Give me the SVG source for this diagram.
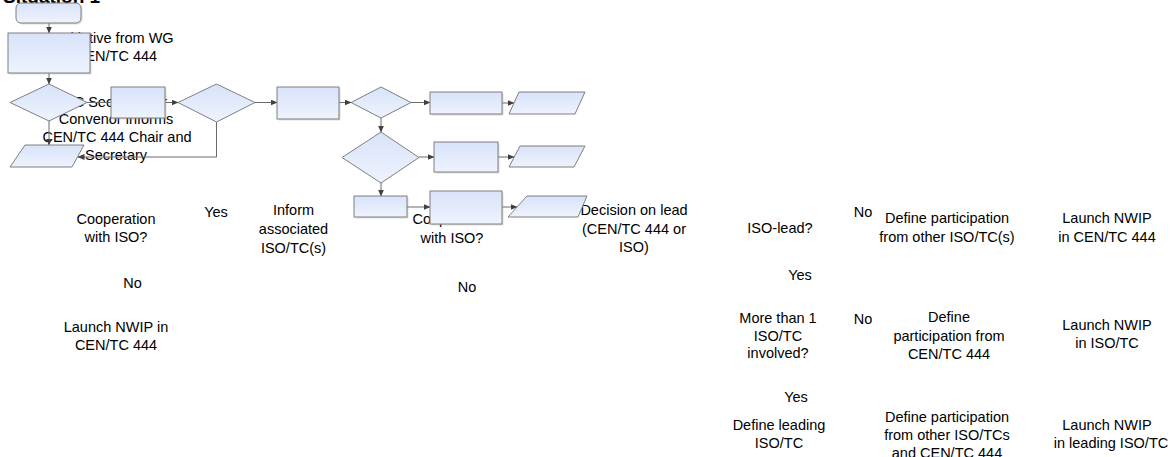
<svg xmlns="http://www.w3.org/2000/svg" width="1171" height="457" viewBox="0 0 1171 457">
<style>
.lbl{font-family:"Liberation Sans",Arial,sans-serif;font-size:14.5px;fill:#000;text-anchor:middle}
.title{font-family:"Liberation Sans",Arial,sans-serif;font-size:19px;font-weight:bold;fill:#000}
.shp{fill:url(#g);stroke:#7f7f7f;stroke-width:1}
.sh{fill:#9a9a9a;opacity:0.35}
.con{fill:none;stroke:#6a6a6a;stroke-width:1}
.arr{marker-end:url(#ah)}
</style>
<defs>
<linearGradient id="g" x1="0" y1="0" x2="0" y2="1">
<stop offset="0" stop-color="#d8e3fa"/>
<stop offset="1" stop-color="#eef3fd"/>
</linearGradient>
<marker id="ah" markerWidth="7" markerHeight="6" refX="6.5" refY="3" orient="auto" markerUnits="userSpaceOnUse">
<path d="M0,0 L7,3 L0,6 Z" fill="#3f3f3f"/>
</marker>
</defs>
<text class="title" x="3" y="3">Situation 1</text>
<g id="labels">
<text class="lbl" id="t-initiative"><tspan x="116" y="43">Initiative from WG</tspan><tspan x="116" y="61">CEN/TC 444</tspan></text>
<text class="lbl" id="t-informs"><tspan x="116" y="106.5">TC Secretary or</tspan><tspan x="116" y="124">Convenor informs</tspan><tspan x="117" y="142">CEN/TC 444 Chair and</tspan><tspan x="116" y="160">Secretary</tspan></text>
<text class="lbl" id="t-coop1"><tspan x="116" y="224">Cooperation</tspan><tspan x="116" y="242">with ISO?</tspan></text>
<text class="lbl" id="t-yes1" x="216" y="217">Yes</text>
<text class="lbl" id="t-inform"><tspan x="293.5" y="215">Inform</tspan><tspan x="293.5" y="234">associated</tspan><tspan x="293.5" y="253">ISO/TC(s)</tspan></text>
<text class="lbl" id="t-no1" x="132.5" y="288">No</text>
<text class="lbl" id="t-launch1"><tspan x="116" y="332">Launch NWIP in</tspan><tspan x="116" y="350">CEN/TC 444</tspan></text>
<text class="lbl" id="t-coop2"><tspan x="452" y="224">Cooperation</tspan><tspan x="452" y="243">with ISO?</tspan></text>
<text class="lbl" id="t-no2" x="467" y="292">No</text>
<text class="lbl" id="t-decision"><tspan x="634" y="215">Decision on lead</tspan><tspan x="634" y="233.5">(CEN/TC 444 or</tspan><tspan x="634" y="252">ISO)</tspan></text>
<text class="lbl" id="t-isolead" x="780" y="233">ISO-lead?</text>
<text class="lbl" id="t-no3" x="863" y="217">No</text>
<text class="lbl" id="t-defother"><tspan x="947" y="223">Define participation</tspan><tspan x="947" y="241.5">from other ISO/TC(s)</tspan></text>
<text class="lbl" id="t-launchcen"><tspan x="1107" y="223">Launch NWIP</tspan><tspan x="1107" y="241.5">in CEN/TC 444</tspan></text>
<text class="lbl" id="t-yes2" x="800" y="280">Yes</text>
<text class="lbl" id="t-morethan"><tspan x="778" y="323">More than 1</tspan><tspan x="778" y="341">ISO/TC</tspan><tspan x="778" y="358">involved?</tspan></text>
<text class="lbl" id="t-no4" x="863" y="324">No</text>
<text class="lbl" id="t-defcen"><tspan x="949" y="322">Define</tspan><tspan x="949" y="340.5">participation from</tspan><tspan x="949" y="358.5">CEN/TC 444</tspan></text>
<text class="lbl" id="t-launchiso"><tspan x="1107" y="330">Launch NWIP</tspan><tspan x="1107" y="348">in ISO/TC</tspan></text>
<text class="lbl" id="t-yes3" x="796" y="402">Yes</text>
<text class="lbl" id="t-defleading"><tspan x="779" y="430">Define leading</tspan><tspan x="779" y="448">ISO/TC</tspan></text>
<text class="lbl" id="t-defothers"><tspan x="947" y="422">Define participation</tspan><tspan x="947" y="440">from other ISO/TCs</tspan><tspan x="947" y="458">and CEN/TC 444</tspan></text>
<text class="lbl" id="t-launchlead"><tspan x="1107" y="430">Launch NWIP</tspan><tspan x="1111" y="448">in leading ISO/TC</tspan></text>
</g>
<g id="connectors">
<path class="con arr" d="M49,23 V33"/>
<path class="con arr" d="M49,73 V84"/>
<path class="con arr" d="M49,121 V145"/>
<path class="con arr" d="M87,102.5 H178"/>
<path class="con arr" d="M216.5,122 V157 H78"/>
<path class="con arr" d="M255,102.5 H277"/>
<path class="con arr" d="M339,102.5 H351"/>
<path class="con arr" d="M411,102.5 H430"/>
<path class="con arr" d="M502,103 H514"/>
<path class="con arr" d="M381,118 V132"/>
<path class="con arr" d="M419,157 H434"/>
<path class="con arr" d="M498,157 H514"/>
<path class="con arr" d="M381,183 V196"/>
<path class="con arr" d="M407,207 H430"/>
<path class="con arr" d="M502,207 H517"/>
</g>
<g id="n-start"><rect class="sh" x="17.5" y="4.5" width="65" height="20" rx="5"/><rect class="shp" x="16" y="3" width="65" height="20" rx="5"/></g>
<g id="n-initiative"><rect class="sh" x="9.5" y="34.5" width="82" height="40"/><rect class="shp" x="8" y="33" width="82" height="40"/></g>
<g id="n-coop1"><path class="shp" d="M49,84 L87,102.5 L49,121 L10,102.5 Z"/></g>
<g id="n-launch1"><path class="shp" d="M25,145 L84,145 L72,167 L10,167 Z"/></g>
<g id="n-inform"><rect class="sh" x="112.5" y="88.5" width="54" height="31"/><rect class="shp" x="111" y="87" width="54" height="31"/></g>
<g id="n-coop2"><path class="shp" d="M216.5,84 L255,102.5 L216.5,122 L178,102.5 Z"/></g>
<g id="n-decision"><rect class="sh" x="278.5" y="88.5" width="62" height="32"/><rect class="shp" x="277" y="87" width="62" height="32"/></g>
<g id="n-isolead"><path class="shp" d="M381,87 L411,102.5 L381,118 L351,102.5 Z"/></g>
<g id="n-defother"><rect class="sh" x="431.5" y="93.5" width="72" height="22"/><rect class="shp" x="430" y="92" width="72" height="22"/></g>
<g id="n-launchcen"><path class="shp" d="M519,92 L585,92 L575,114 L509,114 Z"/></g>
<g id="n-morethan"><path class="shp" d="M381,132 L419,157.5 L381,183 L342,157.5 Z"/></g>
<g id="n-defcen"><rect class="sh" x="435.5" y="143.5" width="64" height="30"/><rect class="shp" x="434" y="142" width="64" height="30"/></g>
<g id="n-launchiso"><path class="shp" d="M520,146 L585,146 L574,167 L509,167 Z"/></g>
<g id="n-defleading"><rect class="sh" x="355.5" y="197.5" width="53" height="21"/><rect class="shp" x="354" y="196" width="53" height="21"/></g>
<g id="n-defothers"><rect class="sh" x="431.5" y="192.5" width="72" height="33"/><rect class="shp" x="430" y="191" width="72" height="33"/></g>
<g id="n-launchlead"><path class="shp" d="M527,196 L587,196 L578,217 L508,217 Z"/></g>
</svg>
